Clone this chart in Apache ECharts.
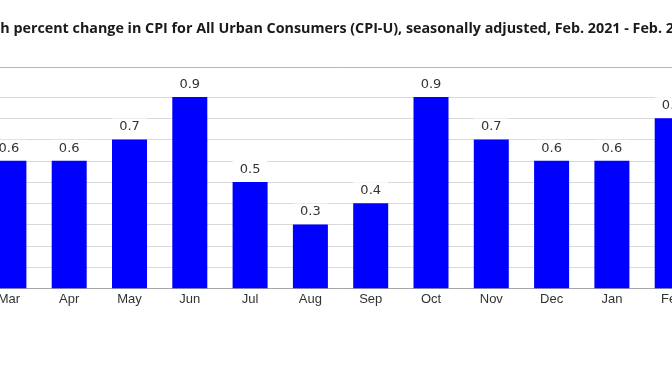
<!DOCTYPE html>
<html>
<head>
<meta charset="utf-8">
<script src="https://cdn.jsdelivr.net/npm/echarts@6/dist/echarts.min.js"></script>
<style>html,body{margin:0;padding:0;background:#fff;overflow:hidden;width:672px;height:372px}
#c{position:absolute;left:-40px;top:0;width:760px;height:372px}</style>
</head>
<body>
<div id="c"></div>
<script>
var titleText = 'One-month percent change in CPI for All Urban Consumers (CPI-U), seasonally adjusted, Feb. 2021 - Feb. 2022';
var categories = ['Mar', 'Apr', 'May', 'Jun', 'Jul', 'Aug', 'Sep', 'Oct', 'Nov', 'Dec', 'Jan', 'Feb'];
var values = [0.6, 0.6, 0.7, 0.9, 0.5, 0.3, 0.4, 0.9, 0.7, 0.6, 0.6, 0.8];
var yMin = 0, yMax = 1.04, yStep = 0.1;

var offset = 40; // container shifted left by this many px
var titleSize = 14.3;
var cv = document.createElement('canvas').getContext('2d');
cv.font = 'bold ' + titleSize + 'px "Open Sans"';
var preWidth = cv.measureText('One-mont').width;

var chart = echarts.init(document.getElementById('c'), null, {renderer: 'canvas'});
var splitColors = [];
for (var i = 0; i < 10; i++) splitColors.push('#d9d9d9');
splitColors.push('rgba(0,0,0,0)');
splitColors.push('#b4b4b4');

chart.setOption({
  animation: false,
  backgroundColor: '#ffffff',
  title: {
    text: titleText,
    left: Math.round(offset - preWidth),
    top: 22,
    padding: 0,
    textStyle: {fontFamily: 'Open Sans', fontWeight: 'bold', fontSize: titleSize, color: '#1a1a1a'}
  },
  grid: {left: 18.75, right: 17.65, top: 67.3, bottom: 83.7, containLabel: false},
  xAxis: {
    type: 'category',
    data: categories,
    axisLine: {lineStyle: {color: '#a6a6a6', width: 1}},
    axisTick: {alignWithLabel: true, length: 4, lineStyle: {color: '#c8c8c8'}},
    axisLabel: {fontFamily: 'Liberation Sans', fontSize: 13, color: '#333', margin: 5}
  },
  yAxis: {
    type: 'value',
    min: yMin, max: yMax, interval: yStep,
    axisLabel: {show: false},
    axisLine: {show: false},
    axisTick: {show: false},
    splitLine: {show: true, lineStyle: {color: splitColors, width: 1}}
  },
  series: [{
    type: 'bar',
    data: values,
    barWidth: 35,
    itemStyle: {color: '#0000ff'},
    label: {
      show: true,
      position: 'top',
      distance: 5,
      fontFamily: 'DejaVu Sans',
      fontSize: 13,
      color: '#333',
      backgroundColor: '#ffffff',
      padding: [2, 7, 1, 7],
      formatter: function (p) { return p.value.toFixed(1); }
    }
  }]
});
</script>
</body>
</html>
